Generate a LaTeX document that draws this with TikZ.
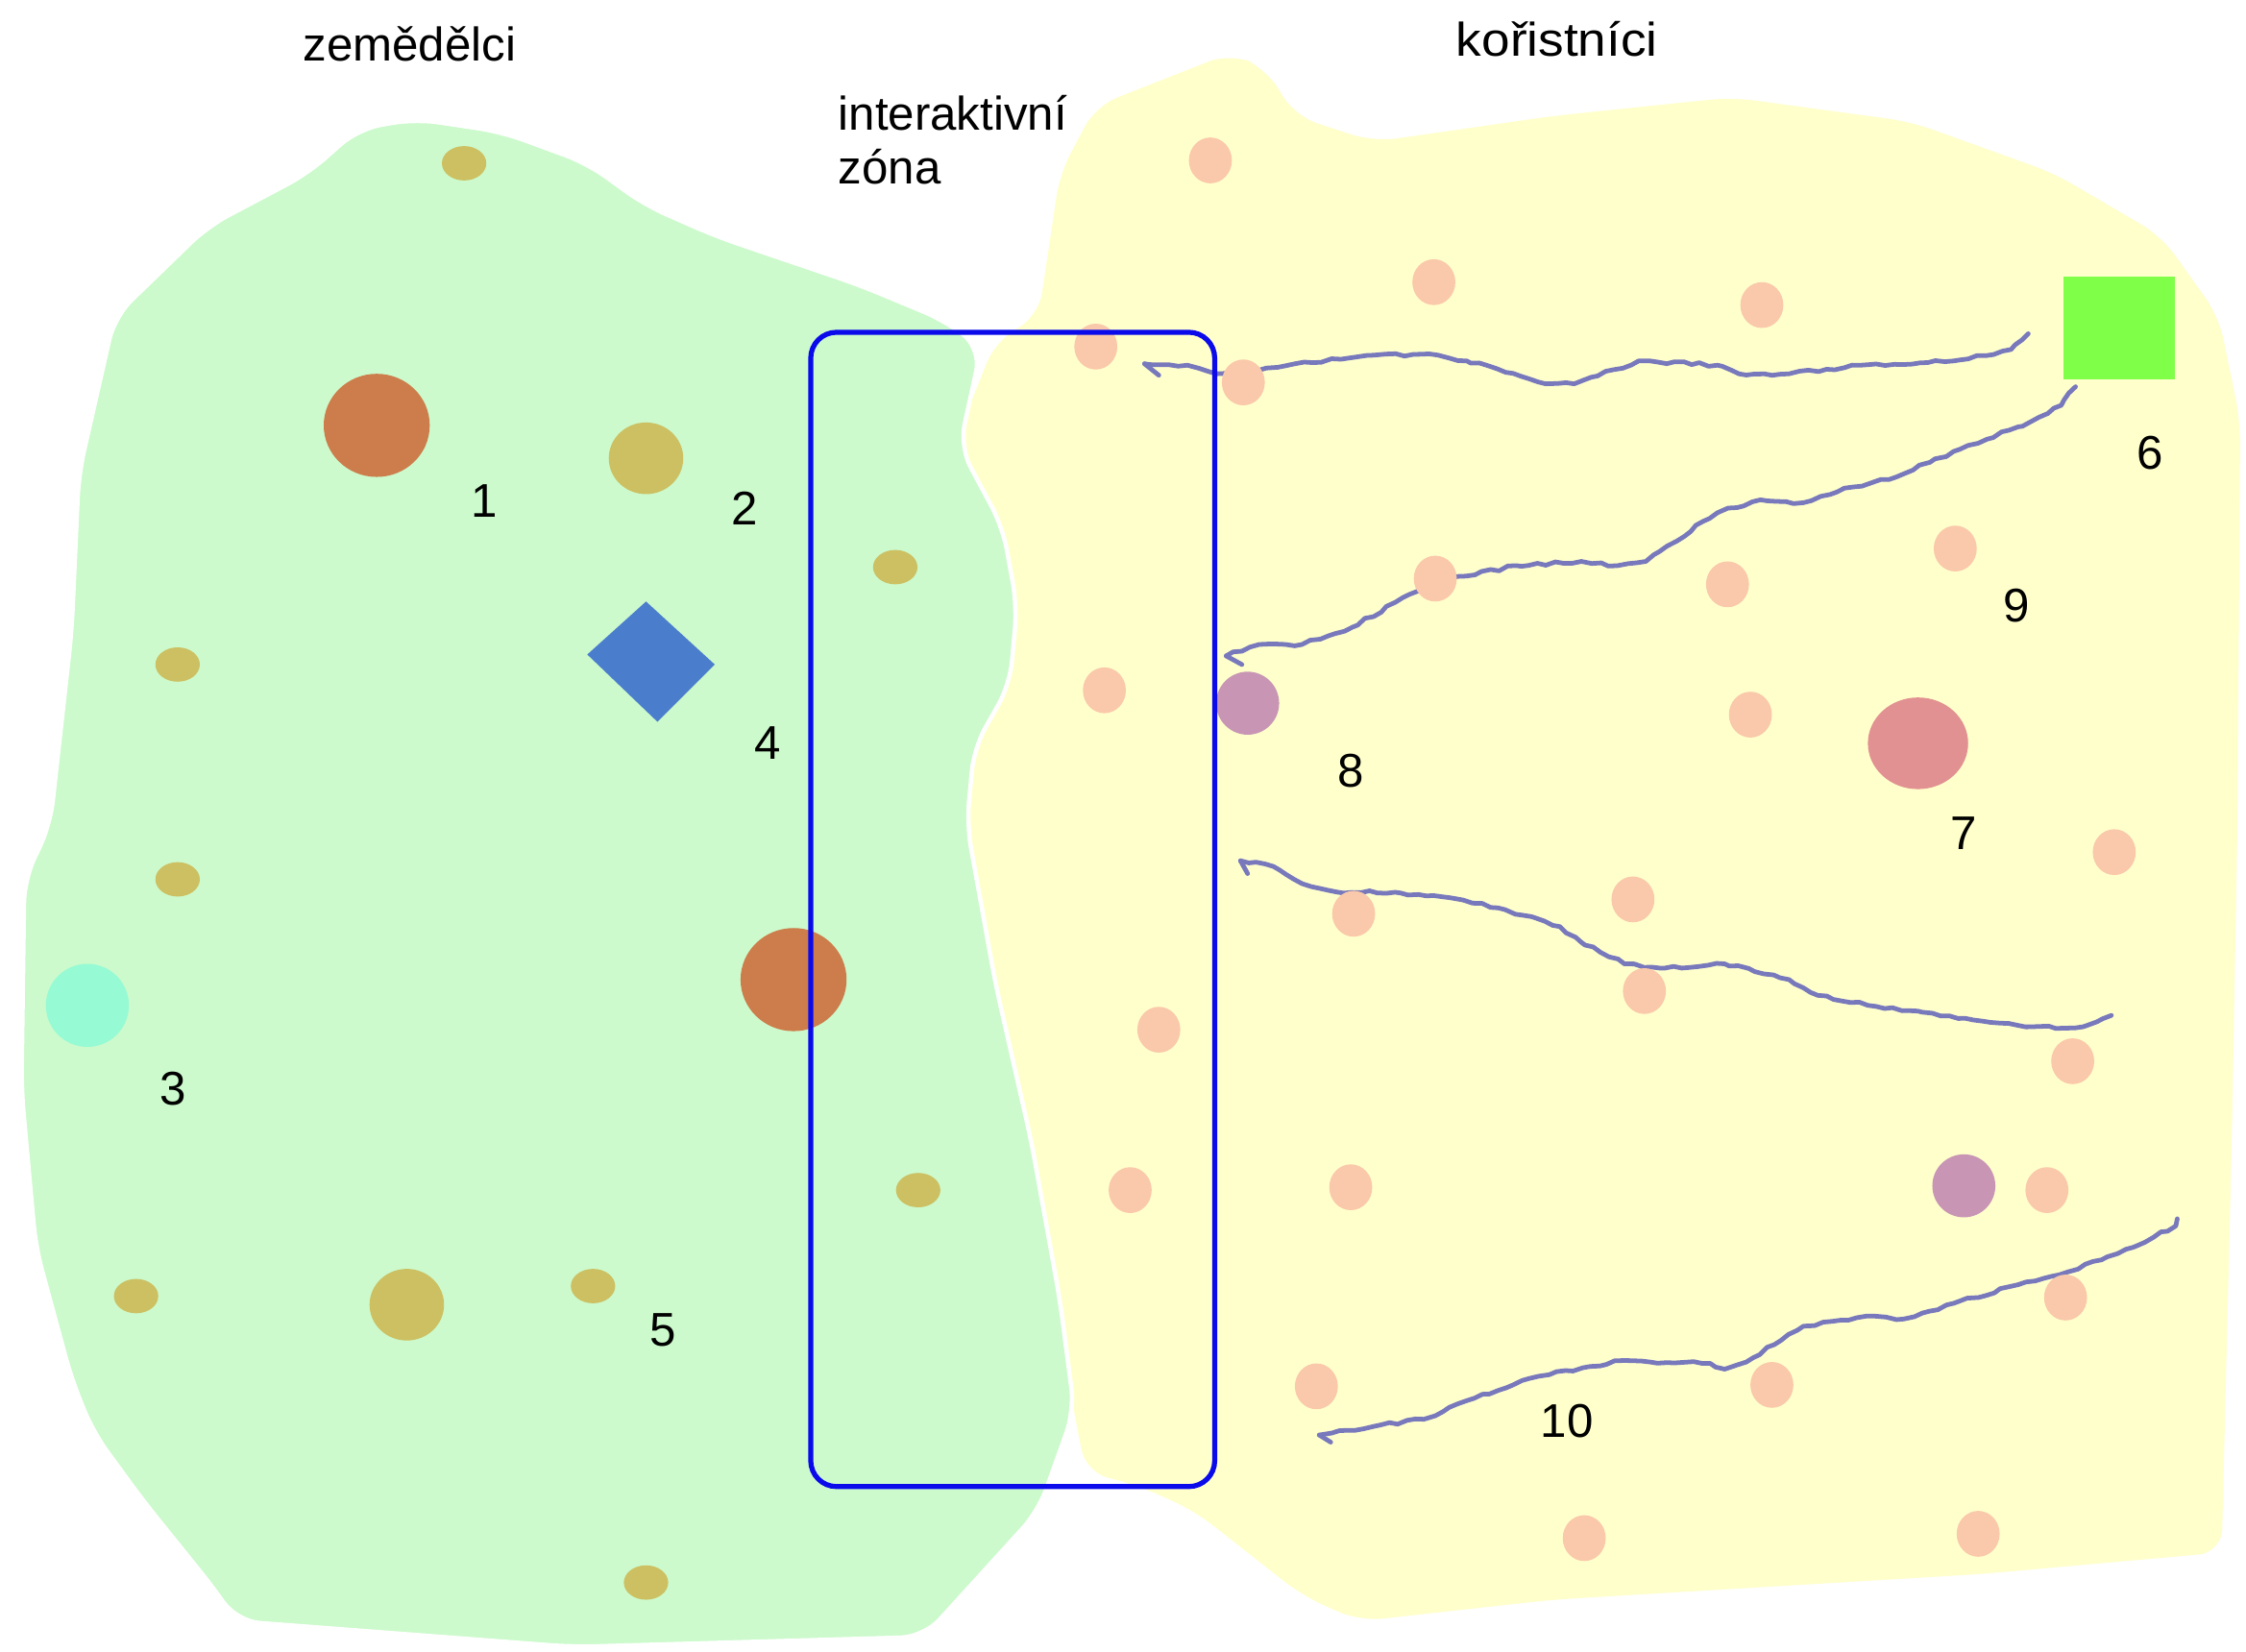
\documentclass[tikz,border=0pt]{standalone}
\usepackage{fontspec}
\setmainfont{Liberation Sans}
\usetikzlibrary{shapes.geometric,decorations.pathmorphing}
\definecolor{zgreen}{RGB}{204,250,204}
\definecolor{zyellow}{RGB}{255,255,204}
\definecolor{olivedot}{RGB}{204,192,98}
\definecolor{browndot}{RGB}{205,125,75}
\definecolor{diamondcol}{RGB}{75,125,205}
\definecolor{cyandot}{RGB}{150,250,212}
\definecolor{salmondot}{RGB}{250,200,170}
\definecolor{purpledot}{RGB}{200,150,180}
\definecolor{pinkdot}{RGB}{225,145,145}
\definecolor{squarecol}{RGB}{128,255,72}
\definecolor{wigcol}{RGB}{120,120,188}
\definecolor{boxcol}{RGB}{10,10,235}
\begin{document}
\begin{tikzpicture}[x=0.5pt,y=-0.5pt,
  sdot/.style={ellipse,fill=olivedot,inner sep=0,minimum width=15.5pt,minimum height=12pt},
  mdot/.style={ellipse,fill=olivedot,inner sep=0,minimum width=26pt,minimum height=25pt},
  bdot/.style={ellipse,fill=browndot,inner sep=0,minimum width=37pt,minimum height=36pt},
  sal/.style={ellipse,fill=salmondot,inner sep=0,minimum width=15pt,minimum height=16pt},
  pur/.style={ellipse,fill=purpledot,inner sep=0,minimum width=22pt,minimum height=22pt},
  pnk/.style={ellipse,fill=pinkdot,inner sep=0,minimum width=35pt,minimum height=32pt},
  lab/.style={font=\fontsize{16.5pt}{19pt}\selectfont,inner sep=0},
  wig/.style={draw=wigcol,line width=1.6pt,line join=round,line cap=round,decorate,
    decoration={random steps,segment length=3pt,amplitude=0.55pt}},
  barb/.style={draw=wigcol,line width=1.6pt,line cap=round}]
\pgfmathsetseed{7}
\useasboundingbox (0,0) rectangle (1568,1153.5);
\fill[white] (0,0) rectangle (1568,1153.5);
% yellow zone
\fill[zyellow,rounded corners=8pt] (765,74) -- (859,37) -- (884,48) -- (904,81) -- (959,99) -- (1084,81) -- (1209,68) -- (1334,85) -- (1434,121) -- (1509,165) -- (1549,221) -- (1564,294) -- (1562,577) -- (1558,800) -- (1551,1084) -- (1384,1099) -- (1084,1117) -- (949,1132) -- (909,1114) -- (834,1055) -- (794,1037) -- (758,1028) -- (745,960) -- (735,908) -- (715,800) -- (690,690) -- (665,580) -- (660,420) -- (665,310) -- (680,276) -- (695,238) -- (725,221) -- (740,121) -- cycle;
% green zone
\filldraw[fill=zgreen,draw=white,line width=1.5pt,rounded corners=8pt] (80,221) -- (145,158) -- (215,121) -- (250,90) -- (290,83) -- (350,92) -- (410,114) -- (450,143) -- (500,165) -- (600,199) -- (660,224) -- (685,243) -- (670,312) -- (700,368) -- (710,423) -- (705,478) -- (680,522) -- (675,576) -- (695,687) -- (720,797) -- (740,908) -- (750,985) -- (725,1055) -- (645,1143) -- (400,1150) -- (165,1132) -- (150,1110) -- (100,1048) -- (65,1000) -- (50,963) -- (25,871) -- (15,761) -- (17,614) -- (35,576) -- (50,441) -- (55,331) -- cycle;
% wiggly paths
\coordinate (t1) at (799,254);
\coordinate (t2) at (856,458);
\coordinate (t3) at (866,601);
\coordinate (t4) at (921,1002);
\draw[wig] (1416,233) -- (1404,244) -- (1364,252) -- (1299,255) -- (1249,261) -- (1214,261) -- (1199,255) -- (1144,252) -- (1099,268) -- (1079,268) -- (1024,252) -- (1004,248) -- (959,248) -- (904,254) -- (884,257) -- (849,261) -- (829,255) -- (t1);
\draw[barb] (t1) -- ++(10,8);
\draw[wig] (1449,270) -- (1439,283) -- (1409,298) -- (1374,311) -- (1324,333) -- (1294,340) -- (1259,351) -- (1229,349) -- (1199,358) -- (1189,364) -- (1149,392) -- (1129,395) -- (1104,392) -- (1059,395) -- (1014,404) -- (984,415) -- (944,438) -- (909,450) -- (879,450) -- (t2);
\draw[barb] (t2) -- ++(11,6);
\draw[wig] (1474,709) -- (1454,717) -- (1414,717) -- (1384,713) -- (1339,706) -- (1304,702) -- (1269,695) -- (1249,684) -- (1204,673) -- (1159,676) -- (1134,673) -- (1104,658) -- (1089,647) -- (1069,640) -- (1019,628) -- (974,623) -- (934,623) -- (909,617) -- (889,605) -- (t3);
\draw[barb] (t3) -- ++(5,9);
\draw[wig] (1520,851) -- (1519,856) -- (1489,871) -- (1444,888) -- (1409,897) -- (1364,910) -- (1329,921) -- (1309,919) -- (1259,926) -- (1224,948) -- (1204,956) -- (1194,952) -- (1134,950) -- (1074,961) -- (1024,978) -- (994,991) -- (959,996) -- (t4);
\draw[barb] (t4) -- ++(8,5);
% farmers' dots
\node[sdot] (f1) at (324,114) {};
\node[sdot] (f2) at (124,464) {};
\node[sdot] (f3) at (625,396) {};
\node[sdot] (f4) at (124,614) {};
\node[sdot] (f5) at (95,905) {};
\node[sdot] (f6) at (414,898) {};
\node[sdot] (f7) at (451,1105) {};
\node[sdot] (f8) at (641,831) {};
\node[mdot] (m1) at (451,320) {};
\node[mdot] (m2) at (284,911) {};
\node[bdot] (b1) at (263,297) {};
\node[bdot] (b2) at (554,684) {};
\node[ellipse,fill=cyandot,inner sep=0,minimum width=29pt,minimum height=29pt] (c1) at (61,702) {};
\fill[diamondcol] (451,420) -- (499,464) -- (459,504) -- (410,457) -- cycle;
% raiders' dots
\foreach \p [count=\i] in {(845,112),(1001,197),(1230,213),(765,242),(868,267),(1002,404),(1206,408),(1365,383),(771,482),(1222,499),(1476,595),(945,638),(1140,628),(1148,692),(809,719),(1447,741),(789,831),(943,829),(1429,831),(1442,906),(919,968),(1237,967),(1106,1074),(1381,1071)}
  \node[sal] (s\i) at \p {};
\node[pur] (p1) at (871,491) {};
\node[pur] (p2) at (1371,828) {};
\node[pnk] (k1) at (1339,519) {};
\node[fill=squarecol,inner sep=0,minimum width=39pt,minimum height=36pt] (sq) at (1479.5,229) {};
% interaction zone
\node[draw=boxcol,line width=1.75pt,rounded corners=9pt,inner sep=0,minimum width=141pt,minimum height=403pt] (zone) at (707,635) {};
% labels
\node[lab] (tz) at (286,31) {zemědělci};
\node[lab,xscale=1.08] (tk) at (1087,27) {kořistníci};
\node[lab,anchor=north west,align=left] (ti) at (585,66) {interaktivní\\zóna};
\node[lab] (n1) at (338,350) {1};
\node[lab] (n2) at (520,355) {2};
\node[lab] (n3) at (121,760) {3};
\node[lab] (n4) at (536,519) {4};
\node[lab] (n5) at (463,929) {5};
\node[lab] (n6) at (1501,316) {6};
\node[lab] (n7) at (1371,582) {7};
\node[lab] (n8) at (943,538) {8};
\node[lab] (n9) at (1408,423) {9};
\node[lab] (n10) at (1094,992) {10};
\end{tikzpicture}
\end{document}
